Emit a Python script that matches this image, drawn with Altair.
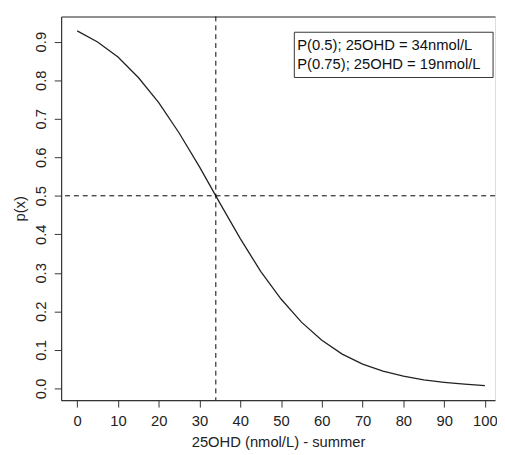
import altair as alt
import pandas as pd

# ---- data ----
vitd = [0, 5, 10, 15, 20, 25, 30, 35, 40, 45, 50, 55, 60, 65, 70, 75, 80, 85, 90, 95, 100]
prob = [0.928, 0.899, 0.860, 0.807, 0.742, 0.663, 0.575, 0.481, 0.389, 0.304, 0.232,
        0.172, 0.125, 0.089, 0.063, 0.045, 0.032, 0.022, 0.016, 0.011, 0.007]
cut_x = [34]
cut_p = [0.5]
x_ticks = [0, 10, 20, 30, 40, 50, 60, 70, 80, 90, 100]
y_ticks = [0.0, 0.1, 0.2, 0.3, 0.4, 0.5, 0.6, 0.7, 0.8, 0.9]
legend_lines = ["P(0.5); 25OHD = 34nmol/L", "P(0.75); 25OHD = 19nmol/L"]

FONT = "Liberation Sans"
AX = "#333333"

curve_df = pd.DataFrame({"x": vitd, "p": prob})
vdf = pd.DataFrame({"x": cut_x})
hdf = pd.DataFrame({"p": cut_p})

xscale = alt.Scale(domain=[-3.94, 102.48], nice=False, zero=False)
yscale = alt.Scale(domain=[-0.0306, 0.9653], nice=False, zero=False)

xaxis = alt.Axis(values=x_ticks, title="25OHD (nmol/L) - summer", grid=False,
                 tickSize=7, tickColor=AX, domainColor=AX, tickWidth=1, domainWidth=1.2,
                 labelFont=FONT, labelFontSize=15, labelColor="#222", labelPadding=7,
                 titleFont=FONT, titleFontSize=15, titleFontWeight="normal", titleColor="#222",
                 titlePadding=6, labelFlush=False)
yaxis = alt.Axis(values=y_ticks, format=".1f", title="p(x)", grid=False,
                 tickSize=7, tickColor=AX, domainColor=AX, tickWidth=1, domainWidth=1.2,
                 labelFont=FONT, labelFontSize=15, labelColor="#222", labelPadding=6,
                 labelAngle=270, labelAlign="center", labelBaseline="bottom",
                 titleFont=FONT, titleFontSize=15, titleFontWeight="normal", titleColor="#222",
                 titlePadding=6, labelFlush=False)
topaxis = alt.Axis(orient="top", labels=False, ticks=False, title=None, grid=False,
                   domain=True, domainColor=AX, domainWidth=1.2)

curve = alt.Chart(curve_df).mark_line(color="#222", strokeWidth=1.3).encode(
    x=alt.X("x:Q", scale=xscale, axis=xaxis),
    y=alt.Y("p:Q", scale=yscale, axis=yaxis),
)

top_frame = alt.Chart(curve_df).mark_point(opacity=0).encode(
    x=alt.X("x:Q", scale=xscale, axis=topaxis),
    y=alt.Y("p:Q", scale=yscale, axis=yaxis),
)

vline = alt.Chart(vdf).mark_rule(color="black", strokeWidth=1, strokeDash=[5, 4]).encode(
    x=alt.X("x:Q", scale=xscale, axis=None)
)
hline = alt.Chart(hdf).mark_rule(color="black", strokeWidth=1, strokeDash=[5, 4]).encode(
    y=alt.Y("p:Q", scale=yscale, axis=yaxis)
)

legend_box = alt.Chart(pd.DataFrame({"a": [0]})).mark_rect(
    fill="white", stroke="#333", strokeWidth=1).encode(
    x=alt.value(237), x2=alt.value(439), y=alt.value(16), y2=alt.value(62)
)
legend_text = alt.Chart(pd.DataFrame({"t": ["\n".join(legend_lines)]})).mark_text(
    align="left", baseline="alphabetic", font=FONT, fontSize=15, color="#111",
    lineBreak="\n", lineHeight=19).encode(
    x=alt.value(240), y=alt.value(34), text="t:N"
)

chart = alt.layer(curve, top_frame, vline, hline, legend_box, legend_text).resolve_axis(
    x="independent"
).properties(
    width=441, height=390,
    autosize=alt.AutoSizeParams(type="none"),
    padding={"left": 54, "top": 5, "right": 2, "bottom": 50},
).configure_view(stroke=None).configure(background="white")

chart.save("out.html", embed_options={"renderer": "svg", "actions": False})
